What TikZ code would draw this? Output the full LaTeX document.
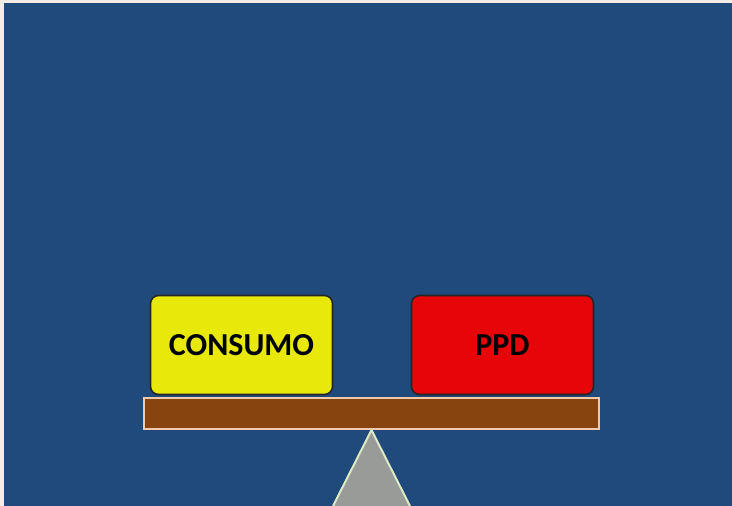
\documentclass[tikz,border=0pt]{standalone}
\usepackage{fontspec}
\setmainfont{Carlito}
\usetikzlibrary{positioning}
\definecolor{PageBlue}{HTML}{1F4A7B}
\definecolor{PageEdge}{HTML}{F1EDE4}
\definecolor{BoxYellow}{HTML}{E8E80A}
\definecolor{BoxRed}{HTML}{E60508}
\definecolor{PlankBrown}{HTML}{87440F}
\definecolor{PlankEdge}{HTML}{F2C9AC}
\definecolor{PivotGray}{HTML}{999B99}
\definecolor{PivotEdge}{HTML}{DCE9C4}
\tikzset{
  weight/.style={draw=black!85, line width=1.6pt, rounded corners=8pt, align=center,
    minimum width=182pt, minimum height=99pt, inner sep=0pt,
    font=\fontsize{32}{36}\selectfont\bfseries, text=black},
  plank/.style={draw=PlankEdge, line width=2pt, fill=PlankBrown,
    minimum width=455pt, minimum height=31pt, inner sep=0pt},
  pivot/.style={fill=PivotGray},
  pivotline/.style={draw=PivotEdge, line width=2pt, line join=round},
}
\begin{document}
\begin{tikzpicture}[x=1pt, y=-1pt]
    % page
    \fill[PageEdge] (0,0) rectangle (732,506);
    \fill[PageBlue] (4,3) rectangle (732,506);
    \useasboundingbox (0,0) rectangle (732,506);
    % balance
    \node[plank] (beam) at (371.5,413.5) {};
    \node[weight, fill=BoxYellow] (consumo) at (241.5,345) {CONSUMO};
    \node[weight, fill=BoxRed] (ppd) at (502.5,345) {PPD};
    \coordinate (tip) at (beam.south);
    \coordinate (footL) at (333,506);
    \coordinate (footR) at (410,506);
    \fill[pivot] (tip) -- (footL) -- (footR) -- cycle;
    \draw[pivotline] (footL) -- (tip) -- (footR);
  \end{tikzpicture}
\end{document}
